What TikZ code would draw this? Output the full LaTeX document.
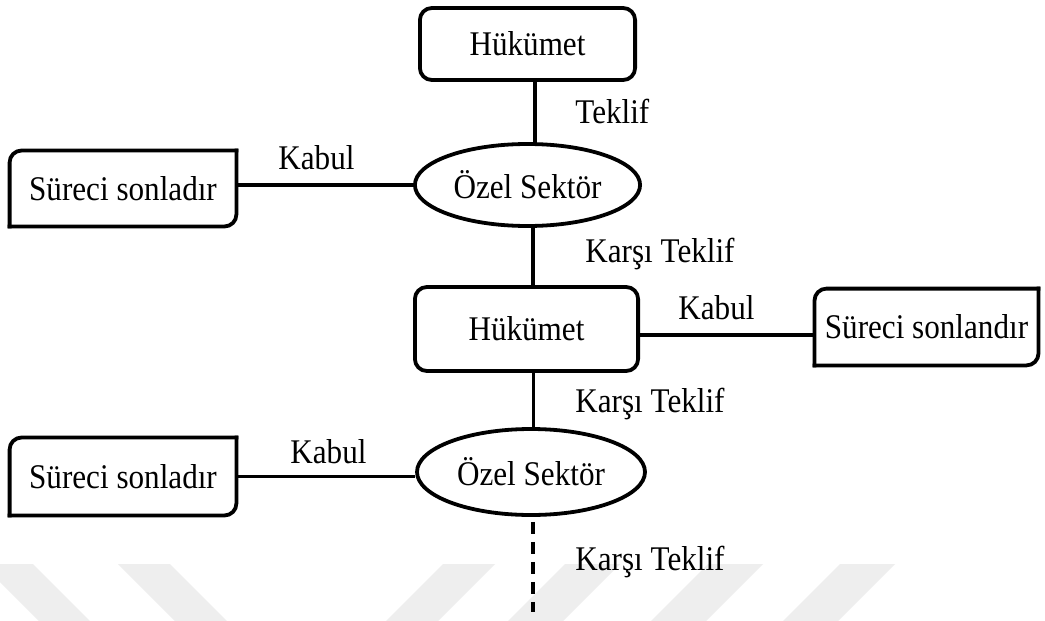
\documentclass[tikz,border=0pt]{standalone}
\usepackage{fontspec}
\setmainfont{Liberation Serif}[FakeStretch=0.9]
\usetikzlibrary{shapes.geometric,calc}
\definecolor{wm}{RGB}{238,238,238}
\tikzset{
  every node/.style={font=\fontsize{17.3pt}{20pt}\selectfont},
  govbox/.style={draw, line width=1.9pt, rounded corners=6pt, inner sep=0pt},
  firmell/.style={draw, ellipse, line width=1.9pt, inner sep=0pt},
  endbox/.style={inner sep=0pt},
  endline/.style={line width=1.9pt, line cap=rect},
  conn/.style={line width=1.7pt},
  dconn/.style={line width=1.7pt, dash pattern=on 6pt off 4pt},
  lbl/.style={anchor=base west, inner sep=0pt},
  wmark/.style={fill=wm, draw=none}
}
\newcommand{\rdbox}[1]{%
  \draw[endline, rounded corners=6pt] (#1.south west) -- (#1.north west) -- (#1.north east);
  \draw[endline, rounded corners=6pt] (#1.north east) -- (#1.south east) -- (#1.south west);}
\begin{document}
\begin{tikzpicture}[x=0.5pt,y=-0.5pt]
\useasboundingbox (0,0) rectangle (1045,621);
\fill[white] (0,0) rectangle (1045,621);
% watermark bands
\fill[wmark] (0,582) -- (0,564) -- (33,564) -- (90,621) -- (39,621) -- cycle;
\fill[wmark] (118,564) -- (170,564) -- (227,621) -- (175,621) -- cycle;
\fill[wmark] (443,564) -- (495,564) -- (438,621) -- (386,621) -- cycle;
\fill[wmark] (565,564) -- (620,564) -- (563,621) -- (508,621) -- cycle;
\fill[wmark] (708,564) -- (763,564) -- (706,621) -- (651,621) -- cycle;
\fill[wmark] (840,564) -- (895,564) -- (838,621) -- (783,621) -- cycle;
% nodes
\node[govbox, minimum width=107.6pt, minimum height=36pt] (h1) at (527.5,44) {Hükümet};
\node[firmell, minimum width=112.6pt, minimum height=41pt] (e1) at (527.5,185) {Özel Sektör};
\node[endbox, minimum width=113pt, minimum height=37.6pt] (l1) at (123,188.5) {Süreci sonladır};
\node[govbox, minimum width=111.6pt, minimum height=42pt] (h2) at (526.5,329) {Hükümet};
\node[endbox, minimum width=111.6pt, minimum height=38pt] (r1) at (926.5,327) {Süreci sonlandır};
\node[firmell, minimum width=114pt, minimum height=43pt] (e2) at (531,472) {Özel Sektör};
\node[endbox, minimum width=113pt, minimum height=38.6pt] (l2) at (123,476.5) {Süreci sonladır};
\rdbox{l1}
\rdbox{r1}
\rdbox{l2}
% connector anchor points
\coordinate (a1) at ([xshift=3.75pt]h1.south);
\coordinate (a2) at ([xshift=2.75pt]e1.south);
\coordinate (a3) at ([yshift=-3pt]h2.east);
\coordinate (a4) at ([xshift=3.5pt]h2.south);
\coordinate (a5) at ([xshift=1pt,yshift=-2.5pt]e2.south);
\coordinate (dend) at (533,612);
% connectors
\draw[conn] (a1) -- (a1 |- e1.north);
\draw[conn] (e1.west) -- (e1.west -| l1.east);
\draw[conn] (a2) -- (a2 |- h2.north);
\draw[conn] (a3) -- (a3 -| r1.west);
\draw[conn] (a4) -- (a4 |- e2.north);
\draw[conn] (l2.east) -- (l2.east -| e2.west);
\draw[dconn] (a5) -- (dend);
% labels
\node[lbl] (t1) at (575,123) {Teklif};
\node[lbl] (k1) at (278,169) {Kabul};
\node[lbl] (kt1) at (585,262) {Karşı Teklif};
\node[lbl] (k2) at (678,319) {Kabul};
\node[lbl] (kt2) at (575,412) {Karşı Teklif};
\node[lbl] (k3) at (290,463) {Kabul};
\node[lbl] (kt3) at (575,570) {Karşı Teklif};
\end{tikzpicture}
\end{document}
